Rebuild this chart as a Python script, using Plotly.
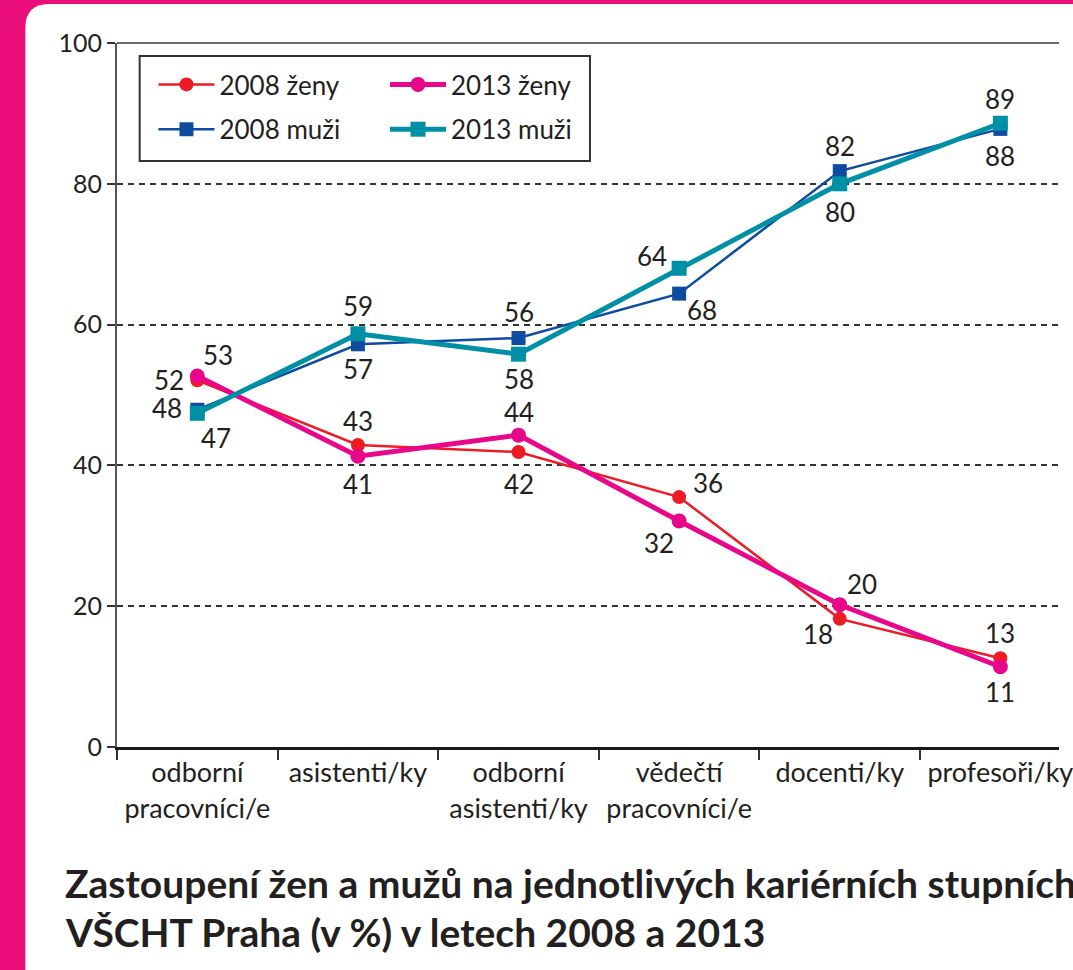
import plotly.graph_objects as go

categories = ["odborní<br>pracovníci/e", "asistenti/ky", "odborní<br>asistenti/ky",
              "vědečtí<br>pracovníci/e", "docenti/ky", "profesoři/ky"]
zeny_2008 = [52.1, 42.9, 41.9, 35.5, 18.2, 12.6]
zeny_2013 = [52.7, 41.3, 44.3, 32.1, 20.2, 11.4]
muzi_2008 = [47.9, 57.2, 58.1, 64.4, 81.8, 87.8]
muzi_2013 = [47.4, 58.7, 55.8, 68.0, 80.0, 88.6]
y_ticks = [0, 20, 40, 60, 80, 100]

W, H = 1073, 970
ML, MR, MT, MB = 117, 0, 43, 223
PW, PH = W - ML - MR, H - MT - MB


def px2x(px):
    return (px - ML) / PW


def py2y(py):
    return (H - MB - py) / PH


RED = "#ED1C24"
MAG = "#E8078A"
BLUE = "#0F4C9F"
TEAL = "#0090A6"
TXT = "#231F20"
FONT = "Lato"

fig = go.Figure()

series = [
    ("2008 ženy", zeny_2008, RED, 2.5, "circle", 14, "legend", "a"),
    ("2008 muži", muzi_2008, BLUE, 2.5, "square", 14, "legend", "b"),
    ("2013 ženy", zeny_2013, MAG, 5, "circle", 15, "legend2", "c"),
    ("2013 muži", muzi_2013, TEAL, 5, "square", 15, "legend2", "d"),
]
for name, vals, col, lw, sym, ms, leg, grp in series:
    fig.add_trace(go.Scatter(
        x=categories, y=vals, name=name, mode="lines+markers",
        line=dict(color=col, width=lw),
        marker=dict(symbol=sym, size=ms, color=col),
        legend=leg, legendgroup=grp, cliponaxis=False,
    ))

# label offsets (dx, dy up) per series, in pixels
offsets = {
    "2008 ženy": [(-28, 0), (0, 24), (0, -32), (29, 14), (-22, -15), (0, 25)],
    "2008 muži": [(-30, 2), (0, -25), (0, -41), (-27, 38), (0, 25), (0, -27)],
    "2013 ženy": [(21, 21), (0, -28), (0, 23), (-20, -22), (22, 21), (0, -25)],
    "2013 muži": [(19, -25), (0, 28), (0, 42), (23, -42), (0, -28), (0, 24)],
}
annotations = []
for name, vals, *_ in series:
    for j, v in enumerate(vals):
        dx, dy = offsets[name][j]
        annotations.append(dict(
            x=categories[j], y=v, xref="x", yref="y", text=str(round(v)),
            showarrow=False, xshift=dx, yshift=dy,
            font=dict(family=FONT, size=26, color=TXT),
        ))

title_lines = ["Zastoupení žen a mužů na jednotlivých kariérních stupních na",
               "VŠCHT Praha (v %) v letech 2008 a 2013"]
for k, (line, py) in enumerate(zip(title_lines, [883, 932])):
    annotations.append(dict(
        x=px2x(62), y=py2y(py), xref="paper", yref="paper", text=line,
        xanchor="left", yanchor="middle", showarrow=False,
        font=dict(family=FONT, size=39, color=TXT, weight="bold"),
    ))

r = 24
panel_path = (
    f"M {px2x(24)},{py2y(1000)} "
    f"L {px2x(24)},{py2y(4 + r)} "
    f"Q {px2x(24)},{py2y(4)} {px2x(24 + r)},{py2y(4)} "
    f"L {px2x(1100)},{py2y(4)} L {px2x(1100)},{py2y(1000)} Z"
)
shapes = [
    dict(type="path", path=panel_path, xref="paper", yref="paper",
         fillcolor="white", line=dict(width=0), layer="below"),
    dict(type="line", xref="paper", yref="paper", x0=0, x1=1, y0=1, y1=1,
         line=dict(color="#3a3a3a", width=1.6), layer="above"),
    dict(type="rect", xref="paper", yref="paper",
         x0=px2x(140), x1=px2x(597), y0=py2y(161), y1=py2y(56),
         line=dict(color="#333333", width=2), fillcolor="rgba(0,0,0,0)", layer="above"),
]

legend_common = dict(
    font=dict(family=FONT, size=26, color=TXT),
    bgcolor="rgba(0,0,0,0)", borderwidth=0, itemwidth=56,
    traceorder="grouped", tracegroupgap=8,
    xanchor="left", yanchor="top", orientation="v",
)

fig.update_layout(
    width=W, height=H,
    margin=dict(l=ML, r=MR, t=MT, b=MB, pad=0),
    paper_bgcolor="#EA0E7B",
    plot_bgcolor="white",
    showlegend=True,
    legend=dict(x=px2x(154), y=py2y(61), **legend_common),
    legend2=dict(x=px2x(389), y=py2y(61), **legend_common),
    annotations=annotations,
    shapes=shapes,
    xaxis=dict(
        type="category", range=[-0.5, -0.5 + PW / 163.0],
        tickson="boundaries", ticks="outside", ticklen=10, tickwidth=1.5,
        tickcolor="#333333", showline=True, linecolor="#1a1a1a", linewidth=3,
        showgrid=False, zeroline=False,
        tickfont=dict(family=FONT, size=27, color=TXT),
    ),
    yaxis=dict(
        range=[0, 100], tickvals=y_ticks, ticks="outside", ticklen=8,
        tickwidth=1.5, tickcolor="#333333", showline=True,
        linecolor="#555555", linewidth=2, zeroline=False,
        showgrid=True, gridcolor="#333333", gridwidth=1.5, griddash="6px,5px",
        tickfont=dict(family=FONT, size=25, color=TXT),
    ),
)

fig.write_html(
    "out.html",
    config={"displayModeBar": False},
    post_script="document.body.style.margin='0px';document.body.style.overflow='hidden';",
)
